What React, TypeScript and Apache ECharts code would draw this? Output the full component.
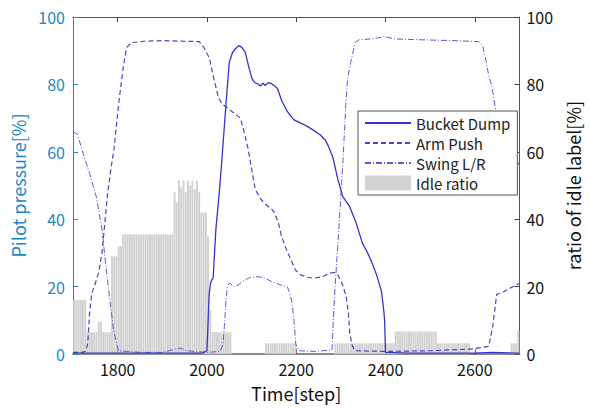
import React, { useEffect, useRef } from "react";
import * as echarts from "echarts";

// Tick labels
const xTicks = [1800, 2000, 2200, 2400, 2600];

// Bucket Dump (solid)
const bucketSteps = [1700, 1800, 1900, 1990, 2000, 2005, 2008, 2011, 2014, 2020, 2027, 2032, 2042, 2050, 2057, 2064, 2071, 2078, 2086, 2094, 2101, 2107, 2114, 2120, 2125, 2130, 2137, 2145, 2152, 2158, 2168, 2180, 2188, 2195, 2210, 2223, 2240, 2254, 2265, 2271, 2282, 2293, 2304, 2319, 2334, 2348, 2360, 2369, 2380, 2391, 2396, 2398, 2400, 2450, 2500, 2600, 2640, 2690, 2700];
const bucketVals = [0.3, 0.3, 0.3, 0.3, 1, 17.7, 21, 22, 22.7, 37, 47, 55, 73, 86.5, 89.4, 90.6, 91.5, 91, 89.5, 85, 81.7, 80.5, 80.2, 79.5, 80.4, 79.7, 80.5, 80.2, 79.5, 78.8, 75, 72, 70.6, 69.5, 68.5, 67.7, 66.3, 65, 63.5, 62, 58.4, 52, 46.8, 43.9, 39, 33, 30, 27.3, 23.5, 18.6, 13, 10, 0.5, 0.3, 0.3, 0.3, 0.5, 0.3, 0.3];

// Arm Push (dashed)
const armSteps = [1700, 1720, 1728, 1733, 1737, 1742, 1750, 1757, 1765, 1777, 1785, 1792, 1802, 1813, 1820, 1831, 1860, 1900, 1950, 1983, 1993, 2005, 2015, 2026, 2035, 2042, 2060, 2075, 2085, 2092, 2100, 2108, 2120, 2135, 2145, 2151, 2160, 2167, 2178, 2188, 2198, 2210, 2225, 2239, 2260, 2275, 2285, 2293, 2304, 2312, 2317, 2320, 2326, 2332, 2400, 2500, 2592, 2631, 2640, 2649, 2665, 2681, 2700];
const armVals = [0.5, 0.5, 0.8, 3, 12, 18, 21, 24, 30, 47, 55, 61, 74, 85.5, 91, 92.4, 92.8, 93, 92.8, 92.7, 91, 88, 82, 76, 74, 73.5, 71.5, 70, 65, 61, 55, 49, 46, 44, 43, 42, 39, 35, 31, 28, 25, 23.5, 22.8, 22.5, 23, 24, 24.2, 23.5, 20.6, 17, 12, 6, 2.3, 1, 0.8, 1, 1.5, 2.3, 8, 17.7, 18.5, 19.7, 21];

// Swing L/R (dash-dot)
const swingSteps = [1700, 1710, 1723, 1737, 1752, 1765, 1773, 1781, 1790, 1796, 1802, 1850, 1900, 1930, 1940, 1955, 2000, 2030, 2036, 2040, 2043, 2047, 2052, 2060, 2070, 2079, 2095, 2114, 2130, 2145, 2165, 2180, 2184, 2190, 2195, 2199, 2206, 2240, 2280, 2283, 2287, 2293, 2300, 2305, 2311, 2315, 2322, 2332, 2341, 2370, 2398, 2420, 2463, 2550, 2609, 2618, 2625, 2632, 2638, 2646, 2660, 2675, 2690, 2700];
const swingVals = [66, 65.2, 59.4, 53.6, 46.8, 37, 27, 17.7, 8, 4, 1, 0.5, 0.5, 1.5, 1.8, 1, 0.5, 0.8, 3, 10, 17, 20.6, 21, 20, 20.5, 21.5, 22.7, 23, 22.5, 21.5, 20.5, 20, 18.6, 15.7, 10, 3, 1, 0.8, 1.2, 10, 20, 32, 47, 58, 74, 81.7, 86.6, 92.4, 93.3, 93.5, 94.2, 93.5, 93.3, 93, 92.7, 91.3, 87, 82, 79.7, 73, 67, 61.5, 58.4, 56];

// Idle ratio (bars, 5-step bins starting at 1700)
const idleStart = 1700;
const idleBin = 5;
const idleVals = [
  16, 16, 16, 16, 16, 16, 6.5, 6.5, 6.5, 6.5,
  6.5, 9.6, 9.6, 6.5, 6.5, 6.5, 6.5, 29, 29, 29,
  32, 32, 35.5, 35.5, 35.5, 35.5, 35.5, 35.5, 35.5, 35.5,
  35.5, 35.5, 35.5, 35.5, 35.5, 35.5, 35.5, 35.5, 35.5, 35.5,
  35.5, 35.5, 35.5, 35.5, 35.5, 48, 45, 51.5, 49.5, 51.5,
  48, 51.5, 50, 51.5, 49, 51.5, 48, 42, 42, 42,
  35, 13, 6.5, 6.5, 6.5, 6.5, 6.5, 6.5, 6.5, 6.5,
  6.5, 0, 0, 0, 0, 0, 0, 0, 0, 0,
  0, 0, 0, 0, 0, 0, 3.2, 3.2, 3.2, 3.2,
  3.2, 3.2, 3.2, 3.2, 3.2, 3.2, 3.2, 3.2, 3.2, 3.2,
  0, 0, 0, 0, 0, 0, 0, 0, 0, 0,
  0, 0, 0, 0, 0, 0, 0, 3.2, 3.2, 3.2,
  3.2, 3.2, 3.2, 3.2, 3.2, 3.2, 3.2, 3.2, 3.2, 3.2,
  3.2, 3.2, 3.2, 3.2, 3.2, 3.2, 3.2, 3.2, 3.2, 3.2,
  3.2, 3.2, 3.2, 3.2, 6.7, 6.7, 6.7, 6.7, 6.7, 6.7,
  6.7, 6.7, 6.7, 6.7, 6.7, 6.7, 6.7, 6.7, 6.7, 6.7,
  6.7, 6.7, 6.7, 3.2, 3.2, 3.2, 3.2, 3.2, 3.2, 3.2,
  3.2, 3.2, 3.2, 3.2, 3.2, 3.2, 3.2, 3.2, 0, 0,
  0, 0, 0, 0, 0, 0, 0, 0, 0, 0,
  0, 0, 0, 0, 0, 0, 3.2, 3.2, 3.2, 7,
];

const FONT = "'Noto Sans CJK JP', 'Noto Sans', sans-serif";
const BLUE_AXIS = "#2286c4";

const pairs = (xs: number[], ys: number[]) => xs.map((x, i) => [x, ys[i]]);

export default function App() {
  const ref = useRef<HTMLDivElement>(null);
  useEffect(() => {
    if (!ref.current) return;
    const chart = echarts.init(ref.current, null, { renderer: "svg" });
    const idleData = idleVals.map((v, i) => [idleStart + idleBin * i + idleBin / 2, v]);
    const hideSym = { itemStyle: { opacity: 0 } };
    chart.setOption({
      animation: false,
      backgroundColor: "#ffffff",
      textStyle: { fontFamily: FONT },
      grid: { left: 73, right: 58, top: 17, bottom: 47, containLabel: false },
      legend: {
        orient: "vertical",
        left: 358,
        top: 111,
        padding: [2, 7, 2, 6],
        itemWidth: 46,
        itemHeight: 15,
        itemGap: 0,
        borderColor: "#555",
        borderWidth: 1,
        backgroundColor: "#ffffff",
        textStyle: { fontSize: 15, color: "#222", fontFamily: FONT, lineHeight: 20 },
        data: [
          { name: "Bucket Dump", ...hideSym },
          { name: "Arm Push", ...hideSym },
          { name: "Swing L/R", ...hideSym },
          { name: "Idle ratio", icon: "rect" },
        ],
      },
      xAxis: [
        {
          type: "value",
          min: 1700,
          max: 2700,
          position: "bottom",
          name: "Time[step]",
          nameLocation: "middle",
          nameGap: 28,
          nameTextStyle: { fontSize: 18, color: "#111", fontFamily: FONT, lineHeight: 20 },
          axisLine: { show: true, lineStyle: { color: "#8a8a8a", width: 2 } },
          axisTick: { show: true, inside: true, length: 5, customValues: xTicks, lineStyle: { color: "#666" } },
          axisLabel: {
            show: true,
            customValues: xTicks,
            fontSize: 16,
            color: "#111",
            margin: 6,
            lineHeight: 18,
            fontFamily: FONT,
            formatter: (v: number) => String(v),
          },
          splitLine: { show: false },
        },
        {
          type: "value",
          min: 1700,
          max: 2700,
          position: "top",
          axisLine: { show: true, onZero: false, lineStyle: { color: "#555", width: 1 } },
          axisTick: { show: true, inside: true, length: 5, customValues: xTicks, lineStyle: { color: "#444" } },
          axisLabel: { show: false },
          splitLine: { show: false },
        },
      ],
      yAxis: [
        {
          type: "value",
          min: 0,
          max: 100,
          interval: 20,
          position: "left",
          name: "Pilot pressure[%]",
          nameLocation: "middle",
          nameRotate: 90,
          nameGap: 44,
          nameTextStyle: { fontSize: 18, color: BLUE_AXIS, fontFamily: FONT },
          axisLine: { show: true, lineStyle: { color: BLUE_AXIS, width: 1 } },
          axisTick: { show: true, inside: true, length: 5, lineStyle: { color: BLUE_AXIS } },
          axisLabel: { fontSize: 16, color: BLUE_AXIS, margin: 8, fontFamily: FONT },
          splitLine: { show: false },
        },
        {
          type: "value",
          min: 0,
          max: 100,
          interval: 20,
          position: "right",
          name: "ratio of idle label[%]",
          nameLocation: "middle",
          nameRotate: 90,
          nameGap: 43,
          nameTextStyle: { fontSize: 18, color: "#111", fontFamily: FONT },
          axisLine: { show: true, lineStyle: { color: "#555", width: 1 } },
          axisTick: { show: true, inside: true, length: 5, lineStyle: { color: "#444" } },
          axisLabel: { fontSize: 16, color: "#111", margin: 7, fontFamily: FONT },
          splitLine: { show: false },
        },
      ],
      series: [
        {
          name: "Idle ratio",
          type: "bar",
          xAxisIndex: 0,
          yAxisIndex: 1,
          data: idleData,
          barWidth: 2,
          itemStyle: { color: "#d2d2d2" },
          z: 1,
        },
        {
          name: "Bucket Dump",
          type: "line",
          xAxisIndex: 0,
          yAxisIndex: 0,
          data: pairs(bucketSteps, bucketVals),
          symbol: "none",
          lineStyle: { color: "#3434c8", width: 1.3, type: "solid" },
          itemStyle: { color: "#3434c8" },
          z: 4,
        },
        {
          name: "Arm Push",
          type: "line",
          xAxisIndex: 0,
          yAxisIndex: 0,
          data: pairs(armSteps, armVals),
          symbol: "none",
          lineStyle: { color: "#4646c8", width: 1.2, type: [5, 3] },
          itemStyle: { color: "#4646c8" },
          z: 3,
        },
        {
          name: "Swing L/R",
          type: "line",
          xAxisIndex: 0,
          yAxisIndex: 0,
          data: pairs(swingSteps, swingVals),
          symbol: "none",
          lineStyle: { color: "#5a5ad8", width: 1, type: [6, 2, 1, 2] },
          itemStyle: { color: "#5a5ad8" },
          z: 2,
        },
      ],
    });
    return () => chart.dispose();
  }, []);
  return <div ref={ref} style={{ width: 590, height: 408, position: "absolute", left: 0, top: 0 }} />;
}
